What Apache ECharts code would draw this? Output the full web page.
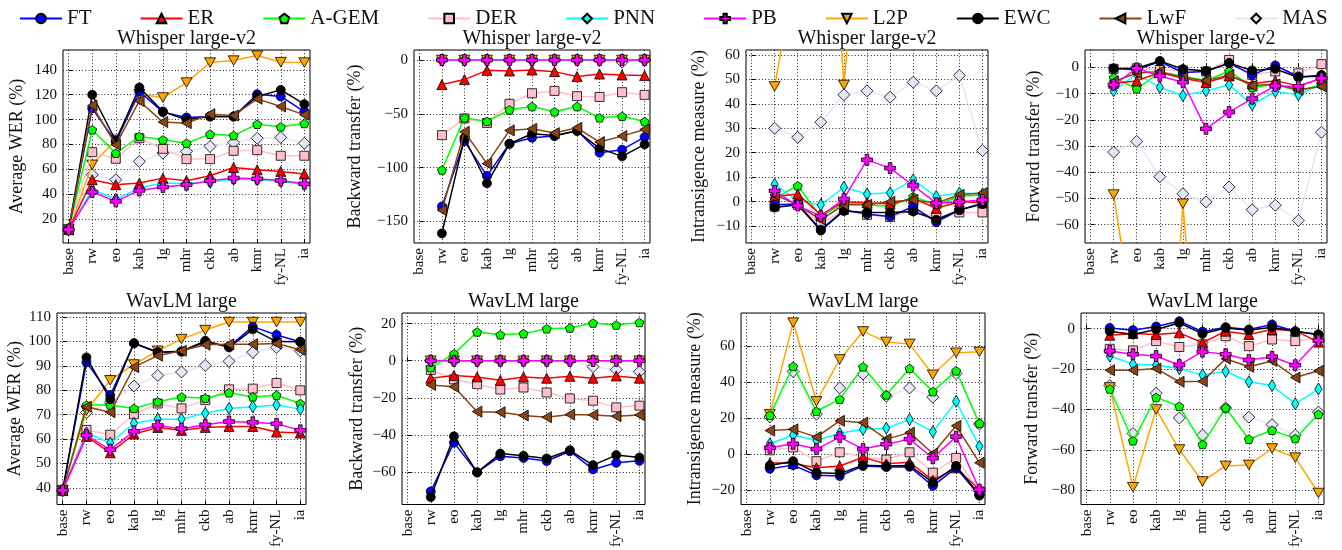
<!DOCTYPE html>
<html>
<head>
<meta charset="utf-8">
<script src="https://cdn.jsdelivr.net/npm/echarts@6/dist/echarts.min.js"></script>
<style>html,body{margin:0;padding:0;background:#fff}#c{width:1342px;height:550px}</style>
</head>
<body>
<div id="c"></div>
<script>
// ---------------- DATA ----------------
const categories = ['base','rw','eo','kab','lg','mhr','ckb','ab','kmr','fy-NL','ia'];
const methods = ['FT','ER','A-GEM','DER','PNN','PB','L2P','EWC','LwF','MAS'];

// rows follow `methods` order
const whisperWER = [
  [11.5,109,82,122.6,106,101.7,102.5,102.5,120.4,118.6,106.5],
  [11.5,51.6,47.6,48.9,52.9,50.8,54.8,61.5,59.6,58.3,56.2],
  [11.5,91.8,73,86.4,83.7,81,88.3,87.2,96.3,94.2,96.9],
  [11.5,73.8,68.5,85,76.5,68.2,68.2,74.9,75.4,70.9,70.9],
  [11.5,43.6,36,44.9,48.9,48.5,49.7,52,51.6,50.3,47.6],
  [11.5,41.7,34.2,43,45.7,47.6,50.8,53,52.4,51,48.4],
  [11.5,63.6,83.7,120.4,117.8,129.8,145.9,147.5,151.5,146.2,145.9],
  [11.5,120,83,125.8,106.5,99.8,102.5,102.5,118.6,123.9,112.4],
  [11.5,111.3,79.7,115,98,97.1,104.4,103.3,116.7,110.5,103.8],
  [11.5,55.6,51.6,66.3,73,74.4,78.4,81.6,85,85.6,81]
];
const whisperBWT = [
  [null,-136.1,-75.3,-107.7,-77.8,-72.2,-70.7,-65.4,-86.1,-83.3,-71.6],
  [null,-22.8,-18.2,-9.6,-10.2,-9.3,-10.8,-15.4,-13,-13.9,-14.5],
  [null,-102.2,-53.7,-57,-46.3,-43.2,-48.1,-43.2,-53.7,-52.2,-57.1],
  [null,-69.8,-54.3,-58.6,-40.7,-30.9,-28.7,-33.6,-34.3,-29.9,-32.4],
  [null,0,0,0,0,0,0,0,0,0,0],
  [null,0,0,0,0,0,0,0,0,0,0],
  [null,0,0,0,0,0,0,0,0,0,0],
  [null,-161.1,-72.2,-114.5,-77.8,-68.5,-70.1,-66,-82.1,-89.5,-78.4],
  [null,-139.5,-66.7,-96.3,-65.4,-63.9,-67.9,-63,-76.2,-70.7,-64.5],
  [null,0,0,0,0,0,0,0,0,-2,0]
];
const whisperIM = [
  [null,-1.3,-1,-11.5,-3.4,-5.1,-6.1,-2,-8.4,-3.4,-0.6],
  [null,2.1,3.1,-5.4,0,-0.4,-1,1.4,-2.7,0,-0.3],
  [null,1.4,6.5,-6.1,-0.6,-1.3,-2,2.1,-1.3,2.1,2.8],
  [null,-2,-1.3,-9.2,-3.4,-5.4,-6.3,-3.4,-6.5,-4.4,-4.4],
  [null,7.1,0.3,-1.3,5.9,3.1,3.6,8.9,2.1,3.5,3.2],
  [null,4.4,-1.6,-5.9,1.1,17.1,13.7,6.6,-0.6,0,0.7],
  [null,47.1,100,190,47.7,150,150,150,150,150,150],
  [null,-2.4,-1.3,-11.8,-3.8,-4.4,-4.4,-4,-7.4,-3.4,-1],
  [null,2.8,-1.3,-7.4,-1.3,-1.3,0,0.7,-0.6,2.8,3.5],
  [null,30,26.3,32.5,43.7,45.3,42.7,48.8,45.3,51.6,20.9]
];
const whisperFWT = [
  [null,-0.3,-0.9,2.3,-1.9,-1.5,1.7,-2.8,0.8,-3.4,-3.4],
  [null,-6,-5.1,-1.9,-4.1,-5.7,-3.2,-6.2,-5,-7,-4.3],
  [null,-3.8,-8.1,-1.9,-3.2,-5,-1.3,-7.6,-6.4,-9.1,-6.4],
  [null,-0.5,-0.3,-0.9,-1.1,-1.5,2.9,-2.8,-1.5,-2.2,1.3],
  [null,-8.9,-2.4,-7.6,-10.7,-8.9,-6.6,-14.2,-9.1,-10.4,-6.4],
  [null,-6.6,-0.3,-3.2,-5.6,-23.4,-17,-11.9,-7,-7.2,-4.1],
  [null,-48.5,-105,-190,-52,-160,-160,-160,-160,-160,-160],
  [null,-0.5,-0.3,2.5,-0.6,-1.3,1.7,-1.1,-0.5,-3.8,-2.8],
  [null,-5.3,-2.2,-1.5,-3.8,-5,-2.9,-6.9,-6.4,-8.5,-7.2],
  [null,-32.3,-28.2,-41.7,-48.2,-51.3,-45.6,-54.3,-52.6,-58.4,-24.7]
];
const wavlmWER = [
  [39,91.5,78,99.3,95.6,95.8,99.9,97.9,106.1,102.7,99.9],
  [39,61.1,54.4,62.1,64.8,63.6,64.8,65.2,65.2,62.9,62.5],
  [39,74,74,72.6,75.3,77.3,76.8,79,77.3,78,74.6],
  [39,63.8,61.8,70.2,74.6,72.6,76,80.4,80.7,83,80],
  [39,62.5,58.4,66.5,68.2,68.2,70.6,72.6,73.3,74,72.3],
  [39,61.6,55.7,63.2,65.6,64.3,65.9,67.2,66.9,66.3,63.6],
  [39,71.7,84.1,90.6,96.2,101,104.7,108,108,108,108],
  [39,93.5,76.3,99.3,95.6,96,100.3,97.6,105,100,99.9],
  [39,73.3,71,89.5,94.2,96.2,98.7,98.9,98.9,99.2,96.6],
  [39,70.9,75,81.8,86.1,87.5,90.2,91.9,95.6,97.6,96.2]
];
const wavlmBWT = [
  [null,-70.4,-44.1,-60.1,-51.4,-52.3,-54,-48.7,-58.5,-54.9,-53.9],
  [null,-9.4,-8,-8.7,-10.5,-8.7,-9.4,-8.4,-9.4,-8.2,-9.4],
  [null,-3.7,3.7,15.5,14,14.6,17.2,17.6,20.3,19.2,20.6],
  [null,-5,-10,-12.6,-15.5,-14.4,-17.1,-20.3,-21.5,-25.1,-24.2],
  [null,0,0,0,0,0,0,0,0,0,0],
  [null,0,0,0,0,0,0,0,0,0,0],
  [null,0,0,0,0,0,0,0,0,0,0],
  [null,-73.4,-40.7,-60.1,-50,-51.2,-52.6,-48.2,-56.2,-50.8,-52.1],
  [null,-13,-14,-27.4,-27.7,-29.5,-30.4,-29,-29.2,-29.9,-29.2],
  [null,0,0,0,0,0,0,0,-3.2,-4.8,-5.9]
];
const wavlmIM = [
  [null,-8,-6,-11.6,-12,-6.5,-7.1,-6.9,-17.5,-7.5,-22.9],
  [null,-4.7,-5.1,-7.5,-6.5,-1.6,-5.3,-4.4,-14.4,-7.5,-19.6],
  [null,21.6,48.7,23.8,30.4,48.4,32.9,47.5,34.7,46.2,17.1],
  [null,2.2,3.8,-3.8,1.1,-1.3,-2.9,1.1,-10.2,-2,-20.5],
  [null,5.8,10.7,7.6,11.6,13.8,14.4,19.3,12.5,29.3,4.4],
  [null,3.6,5.8,2.9,9.5,2.9,5.6,8.4,-2.2,9.8,-19.6],
  [null,22.2,72.9,29.3,52.5,68,62.2,61.1,44,56.2,56.7],
  [null,-6.2,-3.8,-10.2,-10.7,-6,-6.5,-6.2,-15.6,-6.5,-22.5],
  [null,13.1,13.8,9.5,18.5,17.5,8.4,12,0.4,15.8,-4.7],
  [null,20.7,45.8,22.2,36.7,44.4,32.2,36.7,31.6,44.7,16.7]
];
const wavlmFWT = [
  [null,0.3,-0.8,1,3.6,-1.6,0.7,-0.5,2,-1.3,-2.9],
  [null,-3.3,-2.4,-2.9,-2.1,-7,-1.3,-2.9,-0.5,-1,-6.7],
  [null,-29.9,-55.5,-34,-38.4,-57.3,-39.2,-54.7,-50.3,-54.4,-42.4],
  [null,-10,-10.8,-6.2,-9.1,-7.8,-3.8,-8.7,-5.4,-6.2,-4.6],
  [null,-13.6,-17.6,-18,-19.8,-22.9,-21.2,-26.3,-28.2,-37.2,-29.9],
  [null,-11.1,-12.7,-13.6,-18,-11.4,-12.7,-15.5,-13.9,-18.1,-5.9],
  [null,-29.1,-78.4,-40,-59.8,-75.6,-67.9,-67.4,-59.3,-63.8,-81.3],
  [null,-1.3,-2.9,-0.5,2.8,-2.6,0.3,-0.8,0.7,-1.5,-2.9],
  [null,-20.6,-20.6,-19.8,-26.3,-26.1,-14.9,-18.9,-16,-24.2,-20.9],
  [null,-28.2,-51.9,-32,-44.2,-52.7,-39.2,-43.8,-47.5,-52.7,-41.3]
];

// y tick labels per panel
const ticksWhisperWER = [20,40,60,80,100,120,140];
const ticksWhisperBWT = [-150,-100,-50,0];
const ticksWhisperIM  = [-10,0,10,20,30,40,50,60];
const ticksWhisperFWT = [-60,-50,-40,-30,-20,-10,0];
const ticksWavlmWER   = [40,50,60,70,80,90,100,110];
const ticksWavlmBWT   = [-60,-40,-20,0,20];
const ticksWavlmIM    = [-20,0,20,40,60];
const ticksWavlmFWT   = [-80,-60,-40,-20,0];

const titles = ['Whisper large-v2','WavLM large'];
const yNames = ['Average WER (%)','Backward transfer (%)','Intransigence measure (%)','Forward transfer (%)'];

// ---------------- LAYOUT / STYLE ----------------
const FONT = 'Liberation Serif';
const panels = [
  {l:63,  t:50,  w:247, h:193, y0:0.7,   y1:156,  ticks:ticksWhisperWER, nm:0, gap:37, ti:0, d:whisperWER},
  {l:414, t:50,  w:236, h:193, y0:-170,  y1:9.3,  ticks:ticksWhisperBWT, nm:1, gap:50, ti:0, d:whisperBWT},
  {l:746, t:50,  w:242, h:193, y0:-16.9, y1:62,   ticks:ticksWhisperIM,  nm:2, gap:38, ti:0, d:whisperIM},
  {l:1085,t:50,  w:242, h:193, y0:-67,   y1:6.7,  ticks:ticksWhisperFWT, nm:3, gap:42, ti:0, d:whisperFWT},
  {l:57,  t:313, w:249, h:194, y0:33.2,  y1:111.7,ticks:ticksWavlmWER,   nm:0, gap:33, ti:1, d:wavlmWER},
  {l:402, t:313, w:243, h:193, y0:-77.4, y1:25.7, ticks:ticksWavlmBWT,   nm:1, gap:36, ti:1, d:wavlmBWT},
  {l:741, t:313, w:244, h:194, y0:-27.8, y1:78.2, ticks:ticksWavlmIM,    nm:2, gap:37, ti:1, d:wavlmIM},
  {l:1081,t:313, w:243, h:193, y0:-87,   y1:7.7,  ticks:ticksWavlmFWT,   nm:3, gap:40, ti:1, d:wavlmFWT}
];

const pentagon = 'path://M0,-1 L0.951,-0.309 L0.588,0.809 L-0.588,0.809 L-0.951,-0.309 Z';
const plusP = 'path://M1,0 H2 V1 H3 V2 H2 V3 H1 V2 H0 V1 H1 Z';
const triDown = 'path://M0,0 L2,0 L1,1.732 Z';
const triLeft = 'path://M0,1 L1.732,0 L1.732,2 Z';
const thinDiamond = 'path://M0.3,0 L0.6,0.5 L0.3,1 L0,0.5 Z';

const sty = {
  'FT':   {c:'#0000ff', s:'circle', z:7},
  'ER':   {c:'#ff0000', s:'triangle', z:6, size:10},
  'A-GEM':{c:'#00ff00', s:pentagon, z:4},
  'DER':  {c:'#ffc0cb', s:'rect', z:3, size:9},
  'PNN':  {c:'#00ffff', s:thinDiamond, z:5, size:12},
  'PB':   {c:'#ff00ff', s:plusP, z:10, size:11},
  'L2P':  {c:'#ffa500', s:triDown, z:2, size:11},
  'EWC':  {c:'#000000', s:'circle', z:8},
  'LwF':  {c:'#8b4513', s:triLeft, z:9, size:11},
  'MAS':  {c:'#e6e6fa', s:'diamond', z:1, size:12}
};

const fmtNum = v => (v < 0 ? '\u2212' + Math.abs(v) : String(v));
const XPAD = 0.24;

const grid = [], xAxis = [], yAxis = [], title = [], series = [];
panels.forEach((p, i) => {
  grid.push({left:p.l, top:p.t, width:p.w, height:p.h, show:true, borderColor:'#000', borderWidth:1, backgroundColor:'transparent'});
  xAxis.push({
    type:'value', gridIndex:i, min:-XPAD, max:10 + XPAD,
    axisLine:{show:false},
    axisTick:{show:true, inside:true, length:4, lineStyle:{color:'#000'}, customValues:[0,1,2,3,4,5,6,7,8,9,10]},
    axisLabel:{rotate:90, fontSize:15, fontFamily:FONT, color:'#111', margin:5,
      customValues:[0,1,2,3,4,5,6,7,8,9,10], formatter:v => categories[Math.round(v)]},
    splitLine:{show:true, lineStyle:{color:'#222', width:1, type:[1,2.2]}}
  });
  yAxis.push({
    type:'value', gridIndex:i, min:p.y0, max:p.y1,
    name:yNames[p.nm], nameLocation:'middle', nameGap:p.gap, nameRotate:90,
    nameTextStyle:{fontSize:18, fontFamily:FONT, color:'#111'},
    axisLine:{show:false},
    axisTick:{show:true, inside:true, length:4, lineStyle:{color:'#000'}, customValues:p.ticks},
    axisLabel:{fontSize:15, fontFamily:FONT, color:'#111', margin:6, customValues:p.ticks, formatter:fmtNum},
    splitLine:{show:true, lineStyle:{color:'#222', width:1, type:[1,2.2]}}
  });
  title.push({text:titles[p.ti], left:p.l + p.w/2, top:p.t - 21, textAlign:'center', padding:0,
    textStyle:{fontSize:20, fontWeight:'normal', fontFamily:FONT, color:'#111'}});
  methods.forEach((m, k) => {
    const st = sty[m];
    const pts = [];
    p.d[k].forEach((v, j) => { if (v !== null) pts.push([j, v]); });
    series.push({
      type:'line', name:m, xAxisIndex:i, yAxisIndex:i, data:pts,
      symbol:st.s, symbolSize:st.size || 9, symbolKeepAspect:true, showSymbol:true,
      clip:true, z:st.z, animation:false,
      lineStyle:{color:st.c, width:1.5},
      itemStyle:{color:st.c, borderColor:'#000', borderWidth:0.8},
      emphasis:{disabled:true}
    });
  });
});

const chart = echarts.init(document.getElementById('c'), null, {renderer:'canvas'});
chart.setOption({
  animation:false,
  backgroundColor:'#fff',
  textStyle:{fontFamily:FONT},
  title,
  legend:{
    data:methods, left:14, top:3, itemWidth:42, itemHeight:12, itemGap:48,
    textStyle:{fontSize:21, fontFamily:FONT, color:'#111'},
    selectedMode:false
  },
  grid, xAxis, yAxis, series
});
</script>
</body>
</html>
